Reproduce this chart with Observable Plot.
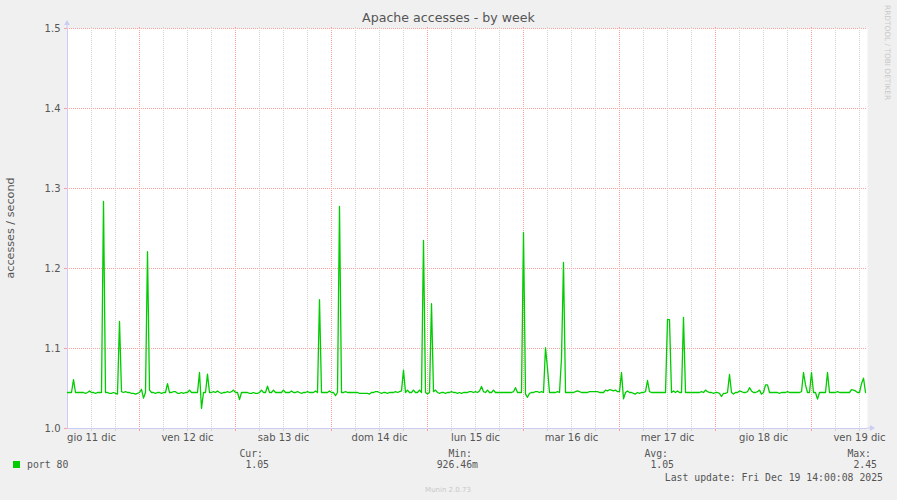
<!DOCTYPE html>
<html>
<head>
<meta charset="utf-8">
<script src="https://cdn.jsdelivr.net/npm/d3@7"></script>
<script src="https://cdn.jsdelivr.net/npm/@observablehq/plot@0.6"></script>
<style>
  html, body { margin: 0; padding: 0; background: #f0f0f0; }
  #chart { width: 897px; height: 500px; }
</style>
</head>
<body>
<div id="chart"></div>
<script>
// ---- data (30-minute samples, accesses / second) ----
const seriesName = "port 80";
const startTime = Date.UTC(2025, 11, 11, 6, 0);   // first sample
const endTime = Date.UTC(2025, 11, 19, 14, 0);    // last update
const stepMinutes = 30;
const values = [
  1.045,1.045,1.045,1.061,1.045,1.045,1.045,1.045,1.045,1.044,1.045,1.047,1.045,1.045,1.044,1.045,1.045,1.045,1.284,1.045,1.045,1.044,1.044,1.045,
  1.044,1.043,1.134,1.046,1.045,1.046,1.045,1.045,1.044,1.044,1.043,1.044,1.045,1.049,1.038,1.045,1.221,1.048,1.045,1.045,1.044,1.045,1.045,1.044,
  1.045,1.045,1.056,1.045,1.045,1.046,1.046,1.044,1.044,1.045,1.044,1.045,1.045,1.048,1.045,1.045,1.045,1.045,1.070,1.025,1.045,1.045,1.068,1.045,
  1.045,1.046,1.045,1.047,1.045,1.044,1.045,1.045,1.046,1.045,1.046,1.048,1.045,1.045,1.036,1.045,1.045,1.045,1.045,1.044,1.044,1.045,1.044,1.044,
  1.045,1.048,1.045,1.045,1.053,1.045,1.045,1.048,1.045,1.045,1.045,1.045,1.048,1.045,1.045,1.045,1.047,1.045,1.045,1.046,1.045,1.044,1.045,1.045,
  1.046,1.045,1.045,1.045,1.047,1.045,1.161,1.045,1.045,1.045,1.045,1.047,1.045,1.045,1.041,1.045,1.2775,1.045,1.045,1.046,1.045,1.045,1.045,1.045,
  1.045,1.045,1.044,1.044,1.044,1.044,1.044,1.043,1.045,1.045,1.046,1.046,1.045,1.044,1.045,1.045,1.044,1.045,1.045,1.045,1.046,1.045,1.046,1.047,
  1.073,1.045,1.048,1.045,1.045,1.048,1.045,1.045,1.048,1.045,1.235,1.045,1.043,1.045,1.156,1.046,1.048,1.045,1.044,1.045,1.045,1.044,1.045,1.045,
  1.046,1.045,1.045,1.044,1.045,1.044,1.045,1.045,1.045,1.046,1.046,1.045,1.046,1.045,1.047,1.0525,1.046,1.045,1.048,1.045,1.045,1.048,1.045,1.045,
  1.045,1.045,1.045,1.045,1.045,1.045,1.045,1.046,1.051,1.045,1.045,1.045,1.245,1.043,1.039,1.044,1.045,1.045,1.046,1.046,1.045,1.046,1.045,1.101,
  1.075,1.045,1.045,1.045,1.045,1.046,1.045,1.088,1.2075,1.045,1.045,1.045,1.045,1.045,1.046,1.047,1.046,1.045,1.045,1.045,1.045,1.046,1.046,1.046,
  1.046,1.046,1.045,1.045,1.045,1.048,1.047,1.0485,1.048,1.047,1.048,1.046,1.046,1.070,1.037,1.045,1.047,1.045,1.045,1.044,1.043,1.045,1.044,1.045,
  1.045,1.046,1.060,1.046,1.045,1.045,1.045,1.045,1.045,1.045,1.045,1.045,1.136,1.136,1.045,1.047,1.045,1.047,1.045,1.045,1.139,1.045,1.045,1.045,
  1.045,1.045,1.045,1.045,1.045,1.046,1.045,1.048,1.046,1.045,1.045,1.044,1.045,1.045,1.044,1.040,1.044,1.044,1.045,1.0675,1.045,1.043,1.045,1.045,
  1.047,1.046,1.045,1.045,1.046,1.051,1.047,1.045,1.045,1.046,1.048,1.043,1.045,1.0545,1.0545,1.045,1.045,1.045,1.045,1.045,1.044,1.045,1.045,1.045,
  1.046,1.045,1.045,1.045,1.045,1.045,1.045,1.046,1.070,1.0545,1.045,1.045,1.070,1.045,1.045,1.0367,1.045,1.045,1.045,1.045,1.070,1.045,1.045,1.045,
  1.045,1.046,1.045,1.045,1.045,1.045,1.045,1.045,1.0485,1.048,1.047,1.045,1.045,1.056,1.063,1.045
];
const dayLabels = ["gio 11 dic","ven 12 dic","sab 13 dic","dom 14 dic","lun 15 dic","mar 16 dic","mer 17 dic","gio 18 dic","ven 19 dic"];
const dayLabelTimes = [11,12,13,14,15,16,17,18,19].map(d => new Date(Date.UTC(2025, 11, d, 12)));
const yTicks = [1.0, 1.1, 1.2, 1.3, 1.4, 1.5];
const yGrid = [1.1, 1.2, 1.3, 1.4, 1.5];
const legendStats = [
  {label: "Cur:", value: "1.05"},
  {label: "Min:", value: "926.46m"},
  {label: "Avg:", value: "1.05"},
  {label: "Max:", value: "2.45"}
];
const titleText = "Apache accesses - by week";
const yLabel = "accesses / second";
const lastUpdate = "Last update: Fri Dec 19 14:00:08 2025";
const watermark = "Munin 2.0.73";
const sideText = "RRDTOOL / TOBI OETIKER";

// ---- derived ----
const series = values.map((v, i) => ({t: new Date(startTime + i * stepMinutes * 60000), v}));
const domainX = [new Date(startTime), new Date(endTime)];
const majorGrid = d3.utcDay.range(domainX[0], domainX[1]);
const minorGrid = d3.utcHour.every(6).range(domainX[0], domainX[1]).filter(d => d.getUTCHours() !== 0 && +d !== +domainX[0]);

const lineColor = "#00cc00";
const majorColor = "#ff9f9f";
const minorColor = "#d3d3d3";
const axisColor = "#ccccf4";
const textColor = "#555";

const plot = Plot.plot({
  width: 897,
  height: 500,
  marginLeft: 67,
  marginRight: 30,
  marginTop: 28,
  marginBottom: 72,
  style: {background: "#f0f0f0", fontFamily: "DejaVu Sans", fontSize: "10px", color: textColor},
  x: {type: "utc", domain: domainX},
  y: {type: "linear", domain: [1.0, 1.5]},
  marks: [
    Plot.frame({fill: "white", stroke: null}),
    Plot.ruleX(minorGrid, {stroke: minorColor, strokeDasharray: "1,1"}),
    Plot.ruleX(majorGrid, {stroke: majorColor, strokeDasharray: "1,1"}),
    Plot.ruleY(yGrid, {stroke: majorColor, strokeDasharray: "1,1"}),
    Plot.axisY({ticks: yTicks, tickFormat: d => d.toFixed(1), tickSize: 3, tickPadding: 4, stroke: majorColor, fill: textColor, fontSize: 10, label: null}),
    Plot.axisX({ticks: majorGrid, tickSize: 3, stroke: majorColor, tickFormat: () => "", label: null}),
    Plot.axisX({ticks: minorGrid, tickSize: 3, stroke: minorColor, tickFormat: () => "", label: null}),
    Plot.axisX({anchor: "top", ticks: majorGrid, tickSize: 2, stroke: majorColor, tickFormat: () => "", label: null}),
    Plot.axisX({anchor: "top", ticks: minorGrid, tickSize: 2, stroke: minorColor, tickFormat: () => "", label: null}),
    Plot.axisX({ticks: dayLabelTimes, tickSize: 0, tickPadding: 5, fill: textColor, fontSize: 10,
      tickFormat: d => dayLabels[dayLabelTimes.findIndex(t => +t === +d)], label: null}),
    Plot.ruleY([1.0], {stroke: axisColor, strokeWidth: 1}),
    Plot.ruleX([domainX[0]], {stroke: axisColor, strokeWidth: 1}),
    Plot.line(series, {x: "t", y: "v", stroke: lineColor, strokeWidth: 1.3})
  ]
});
document.getElementById("chart").appendChild(plot);

// ---- annotations (title, arrows, legend) ----
const svg = d3.select(plot);
const xs = plot.scale("x"), ys = plot.scale("y");
const x0 = xs.apply(domainX[0]), x1 = xs.apply(domainX[1]);
const yTop = ys.apply(1.5), yBot = ys.apply(1.0);

svg.append("line").attr("x1", x0).attr("x2", x0).attr("y1", yTop).attr("y2", yTop - 4).attr("stroke", axisColor);
svg.append("path").attr("d", `M${x0 - 3},${yTop - 3}L${x0 + 3},${yTop - 3}L${x0},${yTop - 8}Z`).attr("fill", axisColor);
svg.append("line").attr("x1", x1).attr("x2", x1 + 3).attr("y1", yBot).attr("y2", yBot).attr("stroke", axisColor);
svg.append("path").attr("d", `M${x1 + 3},${yBot - 3}L${x1 + 3},${yBot + 3}L${x1 + 8},${yBot}Z`).attr("fill", axisColor);

svg.append("text").text(titleText).attr("x", 448.5).attr("y", 22).attr("text-anchor", "middle")
  .attr("font-family", "DejaVu Sans").attr("font-size", 12.6).attr("fill", "#555");

svg.append("text").text(yLabel).attr("transform", `translate(14,${(yTop + yBot) / 2}) rotate(-90)`)
  .attr("text-anchor", "middle").attr("font-family", "DejaVu Sans").attr("font-size", 11.2).attr("fill", "#555");

svg.append("text").text(sideText).attr("transform", "translate(885,5) rotate(90)").attr("text-anchor", "start")
  .attr("font-family", "DejaVu Sans").attr("font-size", 7.4).attr("fill", "#c8c8c8");

svg.append("text").text(watermark).attr("x", 448).attr("y", 492).attr("text-anchor", "middle")
  .attr("font-family", "DejaVu Sans").attr("font-size", 7).attr("fill", "#c8c8c8");

const mono = "DejaVu Sans Mono";
svg.append("rect").attr("x", 13).attr("y", 461).attr("width", 7).attr("height", 7).attr("fill", lineColor);
svg.append("text").text(seriesName).attr("x", 27).attr("y", 468).attr("text-anchor", "start")
  .attr("font-family", mono).attr("font-size", 9.8).attr("fill", textColor);
const statRight = [269, 478, 674, 877];
legendStats.forEach((s, i) => {
  svg.append("text").text(s.label).attr("x", statRight[i] - 6).attr("y", 456.5).attr("text-anchor", "end")
    .attr("font-family", mono).attr("font-size", 9.8).attr("fill", textColor);
  svg.append("text").text(s.value).attr("x", statRight[i]).attr("y", 468).attr("text-anchor", "end")
    .attr("font-family", mono).attr("font-size", 9.8).attr("fill", textColor);
});
svg.append("text").text(lastUpdate).attr("x", 883).attr("y", 480.5).attr("text-anchor", "end")
  .attr("font-family", mono).attr("font-size", 9.8).attr("fill", textColor);
</script>
</body>
</html>
